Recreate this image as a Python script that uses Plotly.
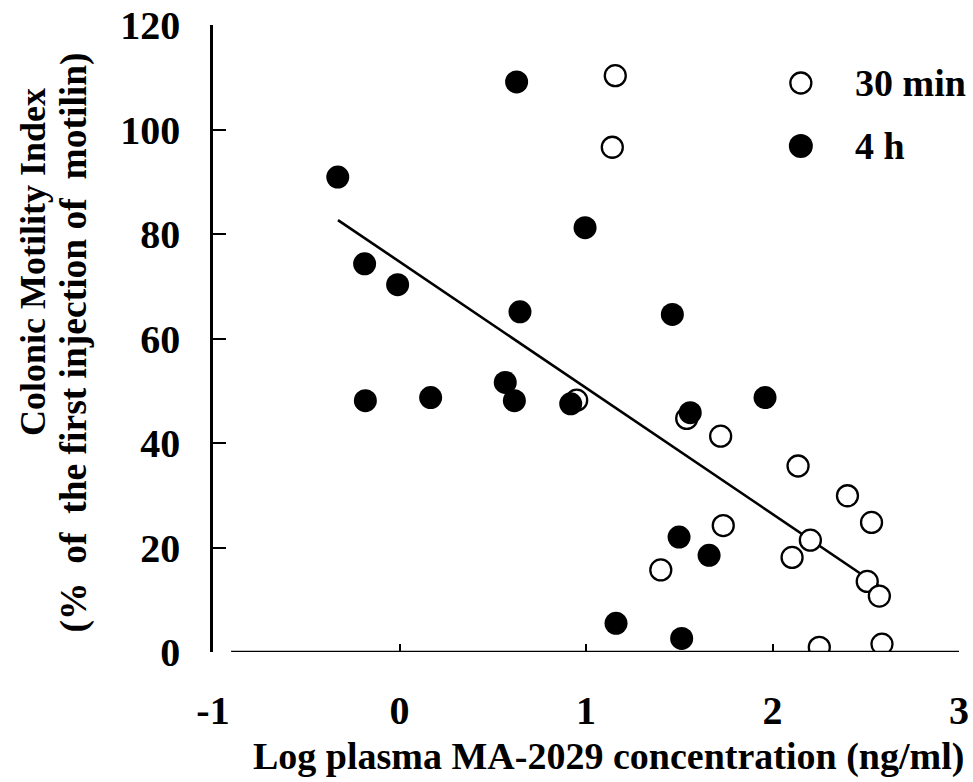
import plotly.graph_objects as go

# ---- data ----
x_30min = [1.157, 1.141, 0.950, 1.540, 1.722, 2.137, 2.402, 2.531, 2.203, 2.105,
           1.736, 1.401, 2.508, 2.573, 2.251, 2.587]
y_30min = [110.3, 96.6, 48.2, 44.7, 41.3, 35.6, 29.9, 24.8, 21.4, 18.1,
           24.2, 15.7, 13.5, 10.7, 0.9, 1.5]

x_4h = [-0.331, -0.187, -0.010, -0.183, 0.167, 0.567, 0.616, 0.628, 0.646, 0.995,
        0.918, 1.463, 1.559, 1.960, 1.499, 1.660, 1.161, 1.513]
y_4h = [90.9, 74.3, 70.3, 48.1, 48.7, 51.6, 48.1, 109.1, 65.1, 81.2,
        47.5, 64.6, 45.8, 48.7, 22.0, 18.5, 5.5, 2.6]

fit_intercept = 74.7
fit_slope = -24.15
fit_x_range = [-0.33, 2.57]

x_ticks = [-1, 0, 1, 2, 3]
y_ticks = [0, 20, 40, 60, 80, 100, 120]

series_names = ["30 min", "4 h"]
x_title = "Log plasma MA-2029 concentration (ng/ml)"
y_title_lines = ["Colonic Motility Index",
                 "(%\u00a0 of\u00a0 the first injection of\u00a0 motilin)"]

FONT = "Liberation Serif"

fit_y = [fit_intercept + fit_slope * x for x in fit_x_range]

fig = go.Figure()

fig.add_trace(go.Scatter(
    x=fit_x_range, y=fit_y, mode="lines",
    line=dict(color="black", width=2.6), showlegend=False, hoverinfo="skip"))

fig.add_trace(go.Scatter(
    x=x_30min, y=y_30min, mode="markers", name=series_names[0],
    marker=dict(symbol="circle", size=21, color="white",
                line=dict(color="black", width=2.3))))

fig.add_trace(go.Scatter(
    x=x_4h, y=y_4h, mode="markers", name=series_names[1],
    marker=dict(symbol="circle", size=23, color="black",
                line=dict(color="black", width=0))))

# custom legend (glyphs sized like the data markers)
leg_x = 0.788
leg_y = [0.9075, 0.807]
fig.add_shape(type="circle", xref="paper", yref="paper", xsizemode="pixel", ysizemode="pixel",
              xanchor=leg_x, yanchor=leg_y[0], x0=-10.5, x1=10.5, y0=-10.5, y1=10.5,
              line=dict(color="black", width=2.3), fillcolor="white")
fig.add_shape(type="circle", xref="paper", yref="paper", xsizemode="pixel", ysizemode="pixel",
              xanchor=leg_x, yanchor=leg_y[1], x0=-12, x1=12, y0=-12, y1=12,
              line=dict(color="black", width=0), fillcolor="black")
for name, ly in zip(series_names, leg_y):
    fig.add_annotation(x=0.858, y=ly, xref="paper", yref="paper", text=name,
                       showarrow=False, xanchor="left", yanchor="middle",
                       font=dict(family=FONT, size=38, color="black", weight="bold"))

# x axis line drawn with a small gap from the y axis, as in the reference
fig.add_shape(type="line", xref="x", yref="y", x0=-0.903, x1=3, y0=0, y1=0,
              line=dict(color="black", width=2.6))

# axis titles
fig.add_annotation(x=0.530, y=-0.166, xref="paper", yref="paper", text=x_title,
                   showarrow=False, xanchor="center", yanchor="middle",
                   font=dict(family=FONT, size=38, color="black", weight="bold"))
fig.add_annotation(x=-0.2413, y=0.622, xref="paper", yref="paper", text=y_title_lines[0],
                   textangle=-90, showarrow=False, xanchor="center", yanchor="middle",
                   font=dict(family=FONT, size=36, color="black", weight="bold"))
fig.add_annotation(x=-0.186, y=0.494, xref="paper", yref="paper", text=y_title_lines[1],
                   textangle=-90, showarrow=False, xanchor="center", yanchor="middle",
                   font=dict(family=FONT, size=37.5, color="black", weight="bold"))

fig.update_layout(
    width=973, height=782,
    margin=dict(l=213, r=14, t=25, b=130),
    paper_bgcolor="white", plot_bgcolor="white",
    showlegend=False,
    font=dict(family=FONT, color="black"),
)

fig.update_xaxes(
    range=[-1, 3], tickvals=x_ticks, ticktext=[str(v) for v in x_ticks],
    showgrid=False, zeroline=False, showline=False, automargin=False,
    ticks="inside", ticklen=8, tickwidth=2, tickcolor="black",
    tickfont=dict(family=FONT, size=40, color="black", weight="bold"),
    ticklabelstandoff=31,
)

fig.update_yaxes(
    range=[0, 120], tickvals=y_ticks, ticktext=[str(v) for v in y_ticks],
    showgrid=False, zeroline=False, showline=True, linecolor="black", linewidth=2.6,
    automargin=False,
    ticks="inside", ticklen=13, tickwidth=2.4, tickcolor="black",
    tickfont=dict(family=FONT, size=40, color="black", weight="bold"),
    ticklabelstandoff=22,
)

fig.write_html("out.html")
